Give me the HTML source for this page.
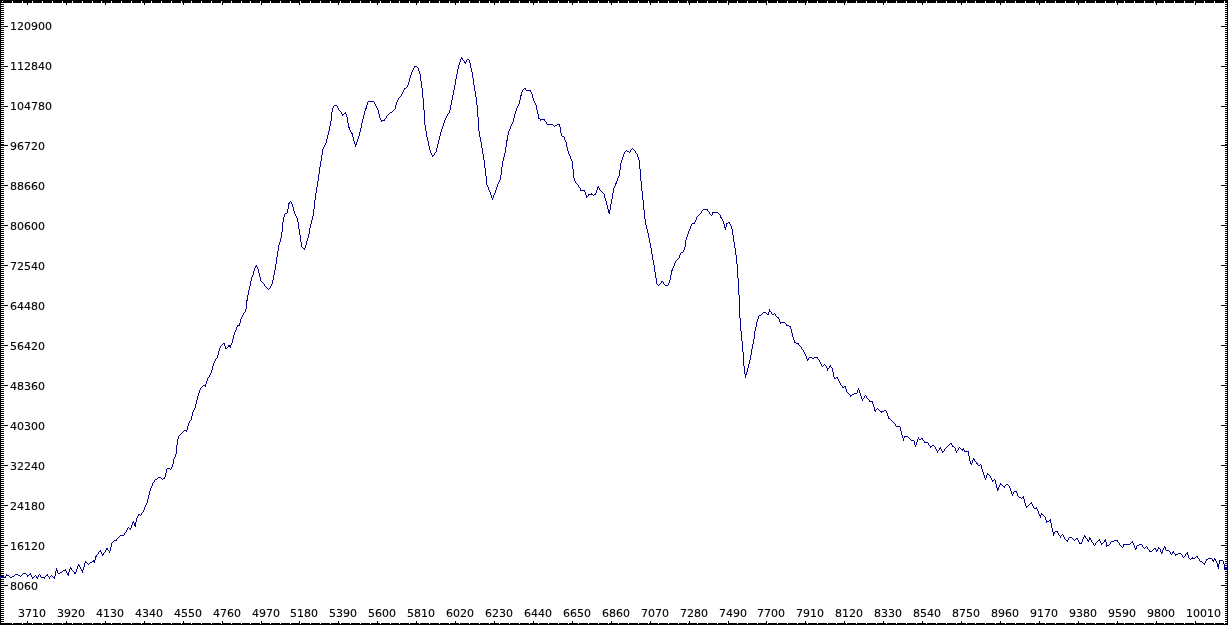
<!DOCTYPE html>
<html lang="en">
<head>
<meta charset="utf-8">
<title>Spectrum plot</title>
<style>
html,body{margin:0;padding:0;background:#fff;overflow:hidden}
body{width:1228px;height:625px;position:relative}
svg{display:block;position:absolute;left:0;top:0}
text{font-family:"DejaVu Sans","Liberation Sans",sans-serif;font-size:11px;fill:#000;stroke:#000;stroke-width:0.12px}
.ax{fill:#000;shape-rendering:crispEdges}
.nt{fill:#fff;shape-rendering:crispEdges}
.cv{fill:#000088;stroke:none;shape-rendering:crispEdges}
</style>
</head>
<body>
<svg width="1228" height="625" viewBox="0 0 1228 625">
<rect x="0" y="0" width="1228" height="625" fill="#fff"/>
<g class="ax">
<rect x="0" y="0" width="1228" height="3"/>
<rect x="0" y="623" width="1228" height="2"/>
<rect x="0" y="0" width="1" height="625"/>
<rect x="1227" y="0" width="1" height="625"/>
</g>
<path class="nt" d="M2 1h1v2h-1zM12 1h1v2h-1zM22 1h1v2h-1zM32 1h1v2h-1zM42 1h1v2h-1zM52 1h1v2h-1zM62 1h1v2h-1zM72 1h1v2h-1zM82 1h1v2h-1zM92 1h1v2h-1zM101 1h1v2h-1zM111 1h1v2h-1zM121 1h1v2h-1zM131 1h1v2h-1zM141 1h1v2h-1zM151 1h1v2h-1zM161 1h1v2h-1zM171 1h1v2h-1zM181 1h1v2h-1zM191 1h1v2h-1zM201 1h1v2h-1zM211 1h1v2h-1zM221 1h1v2h-1zM231 1h1v2h-1zM241 1h1v2h-1zM250 1h1v2h-1zM260 1h1v2h-1zM270 1h1v2h-1zM280 1h1v2h-1zM290 1h1v2h-1zM300 1h1v2h-1zM310 1h1v2h-1zM320 1h1v2h-1zM330 1h1v2h-1zM340 1h1v2h-1zM350 1h1v2h-1zM360 1h1v2h-1zM370 1h1v2h-1zM380 1h1v2h-1zM390 1h1v2h-1zM399 1h1v2h-1zM409 1h1v2h-1zM419 1h1v2h-1zM429 1h1v2h-1zM439 1h1v2h-1zM449 1h1v2h-1zM459 1h1v2h-1zM469 1h1v2h-1zM479 1h1v2h-1zM489 1h1v2h-1zM499 1h1v2h-1zM509 1h1v2h-1zM519 1h1v2h-1zM529 1h1v2h-1zM538 1h1v2h-1zM548 1h1v2h-1zM558 1h1v2h-1zM568 1h1v2h-1zM578 1h1v2h-1zM588 1h1v2h-1zM598 1h1v2h-1zM608 1h1v2h-1zM618 1h1v2h-1zM628 1h1v2h-1zM638 1h1v2h-1zM648 1h1v2h-1zM658 1h1v2h-1zM668 1h1v2h-1zM678 1h1v2h-1zM687 1h1v2h-1zM697 1h1v2h-1zM707 1h1v2h-1zM717 1h1v2h-1zM727 1h1v2h-1zM737 1h1v2h-1zM747 1h1v2h-1zM757 1h1v2h-1zM767 1h1v2h-1zM777 1h1v2h-1zM787 1h1v2h-1zM797 1h1v2h-1zM807 1h1v2h-1zM817 1h1v2h-1zM827 1h1v2h-1zM836 1h1v2h-1zM846 1h1v2h-1zM856 1h1v2h-1zM866 1h1v2h-1zM876 1h1v2h-1zM886 1h1v2h-1zM896 1h1v2h-1zM906 1h1v2h-1zM916 1h1v2h-1zM926 1h1v2h-1zM936 1h1v2h-1zM946 1h1v2h-1zM956 1h1v2h-1zM966 1h1v2h-1zM975 1h1v2h-1zM985 1h1v2h-1zM995 1h1v2h-1zM1005 1h1v2h-1zM1015 1h1v2h-1zM1025 1h1v2h-1zM1035 1h1v2h-1zM1045 1h1v2h-1zM1055 1h1v2h-1zM1065 1h1v2h-1zM1075 1h1v2h-1zM1085 1h1v2h-1zM1095 1h1v2h-1zM1105 1h1v2h-1zM1115 1h1v2h-1zM1124 1h1v2h-1zM1134 1h1v2h-1zM1144 1h1v2h-1zM1154 1h1v2h-1zM1164 1h1v2h-1zM1174 1h1v2h-1zM1184 1h1v2h-1zM1194 1h1v2h-1zM1204 1h1v2h-1zM1214 1h1v2h-1zM1224 1h1v2h-1zM2 623h1v1h-1zM12 623h1v1h-1zM22 623h1v1h-1zM32 623h1v1h-1zM42 623h1v1h-1zM52 623h1v1h-1zM62 623h1v1h-1zM72 623h1v1h-1zM82 623h1v1h-1zM92 623h1v1h-1zM101 623h1v1h-1zM111 623h1v1h-1zM121 623h1v1h-1zM131 623h1v1h-1zM141 623h1v1h-1zM151 623h1v1h-1zM161 623h1v1h-1zM171 623h1v1h-1zM181 623h1v1h-1zM191 623h1v1h-1zM201 623h1v1h-1zM211 623h1v1h-1zM221 623h1v1h-1zM231 623h1v1h-1zM241 623h1v1h-1zM250 623h1v1h-1zM260 623h1v1h-1zM270 623h1v1h-1zM280 623h1v1h-1zM290 623h1v1h-1zM300 623h1v1h-1zM310 623h1v1h-1zM320 623h1v1h-1zM330 623h1v1h-1zM340 623h1v1h-1zM350 623h1v1h-1zM360 623h1v1h-1zM370 623h1v1h-1zM380 623h1v1h-1zM390 623h1v1h-1zM399 623h1v1h-1zM409 623h1v1h-1zM419 623h1v1h-1zM429 623h1v1h-1zM439 623h1v1h-1zM449 623h1v1h-1zM459 623h1v1h-1zM469 623h1v1h-1zM479 623h1v1h-1zM489 623h1v1h-1zM499 623h1v1h-1zM509 623h1v1h-1zM519 623h1v1h-1zM529 623h1v1h-1zM538 623h1v1h-1zM548 623h1v1h-1zM558 623h1v1h-1zM568 623h1v1h-1zM578 623h1v1h-1zM588 623h1v1h-1zM598 623h1v1h-1zM608 623h1v1h-1zM618 623h1v1h-1zM628 623h1v1h-1zM638 623h1v1h-1zM648 623h1v1h-1zM658 623h1v1h-1zM668 623h1v1h-1zM678 623h1v1h-1zM687 623h1v1h-1zM697 623h1v1h-1zM707 623h1v1h-1zM717 623h1v1h-1zM727 623h1v1h-1zM737 623h1v1h-1zM747 623h1v1h-1zM757 623h1v1h-1zM767 623h1v1h-1zM777 623h1v1h-1zM787 623h1v1h-1zM797 623h1v1h-1zM807 623h1v1h-1zM817 623h1v1h-1zM827 623h1v1h-1zM836 623h1v1h-1zM846 623h1v1h-1zM856 623h1v1h-1zM866 623h1v1h-1zM876 623h1v1h-1zM886 623h1v1h-1zM896 623h1v1h-1zM906 623h1v1h-1zM916 623h1v1h-1zM926 623h1v1h-1zM936 623h1v1h-1zM946 623h1v1h-1zM956 623h1v1h-1zM966 623h1v1h-1zM975 623h1v1h-1zM985 623h1v1h-1zM995 623h1v1h-1zM1005 623h1v1h-1zM1015 623h1v1h-1zM1025 623h1v1h-1zM1035 623h1v1h-1zM1045 623h1v1h-1zM1055 623h1v1h-1zM1065 623h1v1h-1zM1075 623h1v1h-1zM1085 623h1v1h-1zM1095 623h1v1h-1zM1105 623h1v1h-1zM1115 623h1v1h-1zM1124 623h1v1h-1zM1134 623h1v1h-1zM1144 623h1v1h-1zM1154 623h1v1h-1zM1164 623h1v1h-1zM1174 623h1v1h-1zM1184 623h1v1h-1zM1194 623h1v1h-1zM1204 623h1v1h-1zM1214 623h1v1h-1zM1224 623h1v1h-1z"/>
<g class="ax">
<path d="M0 0h4v1h-4zM0 2h4v1h-4zM0 4h4v1h-4zM0 6h4v1h-4zM0 8h4v1h-4zM0 10h4v1h-4zM0 12h4v1h-4zM0 14h4v1h-4zM0 16h4v1h-4zM0 18h4v1h-4zM0 20h4v1h-4zM0 22h4v1h-4zM0 24h4v1h-4zM0 26h4v1h-4zM0 28h4v1h-4zM0 30h4v1h-4zM0 32h4v1h-4zM0 34h4v1h-4zM0 36h4v1h-4zM0 38h4v1h-4zM0 40h4v1h-4zM0 42h4v1h-4zM0 44h4v1h-4zM0 46h4v1h-4zM0 48h4v1h-4zM0 50h4v1h-4zM0 52h4v1h-4zM0 54h4v1h-4zM0 56h4v1h-4zM0 58h4v1h-4zM0 60h4v1h-4zM0 62h4v1h-4zM0 64h4v1h-4zM0 66h4v1h-4zM0 68h4v1h-4zM0 70h4v1h-4zM0 72h4v1h-4zM0 74h4v1h-4zM0 76h4v1h-4zM0 78h4v1h-4zM0 80h4v1h-4zM0 82h4v1h-4zM0 84h4v1h-4zM0 86h4v1h-4zM0 88h4v1h-4zM0 90h4v1h-4zM0 92h4v1h-4zM0 94h4v1h-4zM0 96h4v1h-4zM0 98h4v1h-4zM0 100h4v1h-4zM0 102h4v1h-4zM0 104h4v1h-4zM0 106h4v1h-4zM0 108h4v1h-4zM0 110h4v1h-4zM0 112h4v1h-4zM0 114h4v1h-4zM0 116h4v1h-4zM0 118h4v1h-4zM0 120h4v1h-4zM0 122h4v1h-4zM0 124h4v1h-4zM0 126h4v1h-4zM0 128h4v1h-4zM0 130h4v1h-4zM0 132h4v1h-4zM0 134h4v1h-4zM0 136h4v1h-4zM0 138h4v1h-4zM0 140h4v1h-4zM0 142h4v1h-4zM0 144h4v1h-4zM0 145h4v1h-4zM0 147h4v1h-4zM0 149h4v1h-4zM0 151h4v1h-4zM0 153h4v1h-4zM0 155h4v1h-4zM0 157h4v1h-4zM0 159h4v1h-4zM0 161h4v1h-4zM0 163h4v1h-4zM0 165h4v1h-4zM0 167h4v1h-4zM0 169h4v1h-4zM0 171h4v1h-4zM0 173h4v1h-4zM0 175h4v1h-4zM0 177h4v1h-4zM0 179h4v1h-4zM0 181h4v1h-4zM0 183h4v1h-4zM0 185h4v1h-4zM0 187h4v1h-4zM0 189h4v1h-4zM0 191h4v1h-4zM0 193h4v1h-4zM0 195h4v1h-4zM0 197h4v1h-4zM0 199h4v1h-4zM0 201h4v1h-4zM0 203h4v1h-4zM0 205h4v1h-4zM0 207h4v1h-4zM0 209h4v1h-4zM0 211h4v1h-4zM0 213h4v1h-4zM0 215h4v1h-4zM0 217h4v1h-4zM0 219h4v1h-4zM0 221h4v1h-4zM0 223h4v1h-4zM0 225h4v1h-4zM0 227h4v1h-4zM0 229h4v1h-4zM0 231h4v1h-4zM0 233h4v1h-4zM0 235h4v1h-4zM0 237h4v1h-4zM0 239h4v1h-4zM0 241h4v1h-4zM0 243h4v1h-4zM0 245h4v1h-4zM0 247h4v1h-4zM0 249h4v1h-4zM0 251h4v1h-4zM0 253h4v1h-4zM0 255h4v1h-4zM0 257h4v1h-4zM0 259h4v1h-4zM0 261h4v1h-4zM0 263h4v1h-4zM0 265h4v1h-4zM0 267h4v1h-4zM0 269h4v1h-4zM0 271h4v1h-4zM0 273h4v1h-4zM0 275h4v1h-4zM0 277h4v1h-4zM0 279h4v1h-4zM0 281h4v1h-4zM0 283h4v1h-4zM0 285h4v1h-4zM0 287h4v1h-4zM0 289h4v1h-4zM0 291h4v1h-4zM0 293h4v1h-4zM0 295h4v1h-4zM0 297h4v1h-4zM0 299h4v1h-4zM0 301h4v1h-4zM0 303h4v1h-4zM0 305h4v1h-4zM0 307h4v1h-4zM0 309h4v1h-4zM0 311h4v1h-4zM0 313h4v1h-4zM0 315h4v1h-4zM0 317h4v1h-4zM0 319h4v1h-4zM0 321h4v1h-4zM0 323h4v1h-4zM0 325h4v1h-4zM0 327h4v1h-4zM0 329h4v1h-4zM0 331h4v1h-4zM0 333h4v1h-4zM0 335h4v1h-4zM0 337h4v1h-4zM0 339h4v1h-4zM0 341h4v1h-4zM0 343h4v1h-4zM0 345h4v1h-4zM0 347h4v1h-4zM0 349h4v1h-4zM0 351h4v1h-4zM0 353h4v1h-4zM0 355h4v1h-4zM0 357h4v1h-4zM0 359h4v1h-4zM0 361h4v1h-4zM0 363h4v1h-4zM0 365h4v1h-4zM0 367h4v1h-4zM0 369h4v1h-4zM0 371h4v1h-4zM0 373h4v1h-4zM0 375h4v1h-4zM0 377h4v1h-4zM0 379h4v1h-4zM0 381h4v1h-4zM0 383h4v1h-4zM0 385h4v1h-4zM0 387h4v1h-4zM0 389h4v1h-4zM0 391h4v1h-4zM0 393h4v1h-4zM0 395h4v1h-4zM0 397h4v1h-4zM0 399h4v1h-4zM0 401h4v1h-4zM0 403h4v1h-4zM0 405h4v1h-4zM0 407h4v1h-4zM0 409h4v1h-4zM0 411h4v1h-4zM0 413h4v1h-4zM0 415h4v1h-4zM0 417h4v1h-4zM0 419h4v1h-4zM0 421h4v1h-4zM0 423h4v1h-4zM0 425h4v1h-4zM0 427h4v1h-4zM0 429h4v1h-4zM0 431h4v1h-4zM0 433h4v1h-4zM0 435h4v1h-4zM0 437h4v1h-4zM0 439h4v1h-4zM0 441h4v1h-4zM0 443h4v1h-4zM0 445h4v1h-4zM0 447h4v1h-4zM0 449h4v1h-4zM0 451h4v1h-4zM0 453h4v1h-4zM0 455h4v1h-4zM0 457h4v1h-4zM0 459h4v1h-4zM0 461h4v1h-4zM0 463h4v1h-4zM0 465h4v1h-4zM0 467h4v1h-4zM0 469h4v1h-4zM0 471h4v1h-4zM0 473h4v1h-4zM0 475h4v1h-4zM0 477h4v1h-4zM0 479h4v1h-4zM0 481h4v1h-4zM0 483h4v1h-4zM0 485h4v1h-4zM0 487h4v1h-4zM0 489h4v1h-4zM0 491h4v1h-4zM0 493h4v1h-4zM0 495h4v1h-4zM0 497h4v1h-4zM0 499h4v1h-4zM0 501h4v1h-4zM0 503h4v1h-4zM0 505h4v1h-4zM0 507h4v1h-4zM0 509h4v1h-4zM0 511h4v1h-4zM0 513h4v1h-4zM0 515h4v1h-4zM0 517h4v1h-4zM0 519h4v1h-4zM0 521h4v1h-4zM0 523h4v1h-4zM0 525h4v1h-4zM0 527h4v1h-4zM0 529h4v1h-4zM0 531h4v1h-4zM0 533h4v1h-4zM0 535h4v1h-4zM0 537h4v1h-4zM0 539h4v1h-4zM0 541h4v1h-4zM0 543h4v1h-4zM0 545h4v1h-4zM0 547h4v1h-4zM0 549h4v1h-4zM0 551h4v1h-4zM0 553h4v1h-4zM0 555h4v1h-4zM0 557h4v1h-4zM0 559h4v1h-4zM0 561h4v1h-4zM0 563h4v1h-4zM0 565h4v1h-4zM0 567h4v1h-4zM0 569h4v1h-4zM0 571h4v1h-4zM0 573h4v1h-4zM0 575h4v1h-4zM0 577h4v1h-4zM0 579h4v1h-4zM0 581h4v1h-4zM0 583h4v1h-4zM0 585h4v1h-4zM0 587h4v1h-4zM0 589h4v1h-4zM0 591h4v1h-4zM0 593h4v1h-4zM0 595h4v1h-4zM0 597h4v1h-4zM0 599h4v1h-4zM0 601h4v1h-4zM0 603h4v1h-4zM0 605h4v1h-4zM0 607h4v1h-4zM0 609h4v1h-4zM0 611h4v1h-4zM0 613h4v1h-4zM0 615h4v1h-4zM0 617h4v1h-4zM0 619h4v1h-4zM0 621h4v1h-4zM0 623h4v1h-4z"/>
<path d="M1225 0h3v1h-3zM1225 2h3v1h-3zM1225 4h3v1h-3zM1225 6h3v1h-3zM1225 8h3v1h-3zM1225 10h3v1h-3zM1225 12h3v1h-3zM1225 14h3v1h-3zM1225 16h3v1h-3zM1225 18h3v1h-3zM1225 20h3v1h-3zM1225 22h3v1h-3zM1225 24h3v1h-3zM1225 26h3v1h-3zM1225 28h3v1h-3zM1225 30h3v1h-3zM1225 32h3v1h-3zM1225 34h3v1h-3zM1225 36h3v1h-3zM1225 38h3v1h-3zM1225 40h3v1h-3zM1225 42h3v1h-3zM1225 44h3v1h-3zM1225 46h3v1h-3zM1225 48h3v1h-3zM1225 50h3v1h-3zM1225 52h3v1h-3zM1225 54h3v1h-3zM1225 56h3v1h-3zM1225 58h3v1h-3zM1225 60h3v1h-3zM1225 62h3v1h-3zM1225 64h3v1h-3zM1225 66h3v1h-3zM1225 68h3v1h-3zM1225 70h3v1h-3zM1225 72h3v1h-3zM1225 74h3v1h-3zM1225 76h3v1h-3zM1225 78h3v1h-3zM1225 80h3v1h-3zM1225 82h3v1h-3zM1225 84h3v1h-3zM1225 86h3v1h-3zM1225 88h3v1h-3zM1225 90h3v1h-3zM1225 92h3v1h-3zM1225 94h3v1h-3zM1225 96h3v1h-3zM1225 98h3v1h-3zM1225 100h3v1h-3zM1225 102h3v1h-3zM1225 104h3v1h-3zM1225 106h3v1h-3zM1225 108h3v1h-3zM1225 110h3v1h-3zM1225 112h3v1h-3zM1225 114h3v1h-3zM1225 116h3v1h-3zM1225 118h3v1h-3zM1225 120h3v1h-3zM1225 122h3v1h-3zM1225 124h3v1h-3zM1225 126h3v1h-3zM1225 128h3v1h-3zM1225 130h3v1h-3zM1225 132h3v1h-3zM1225 134h3v1h-3zM1225 136h3v1h-3zM1225 138h3v1h-3zM1225 140h3v1h-3zM1225 142h3v1h-3zM1225 144h3v1h-3zM1225 145h3v1h-3zM1225 147h3v1h-3zM1225 149h3v1h-3zM1225 151h3v1h-3zM1225 153h3v1h-3zM1225 155h3v1h-3zM1225 157h3v1h-3zM1225 159h3v1h-3zM1225 161h3v1h-3zM1225 163h3v1h-3zM1225 165h3v1h-3zM1225 167h3v1h-3zM1225 169h3v1h-3zM1225 171h3v1h-3zM1225 173h3v1h-3zM1225 175h3v1h-3zM1225 177h3v1h-3zM1225 179h3v1h-3zM1225 181h3v1h-3zM1225 183h3v1h-3zM1225 185h3v1h-3zM1225 187h3v1h-3zM1225 189h3v1h-3zM1225 191h3v1h-3zM1225 193h3v1h-3zM1225 195h3v1h-3zM1225 197h3v1h-3zM1225 199h3v1h-3zM1225 201h3v1h-3zM1225 203h3v1h-3zM1225 205h3v1h-3zM1225 207h3v1h-3zM1225 209h3v1h-3zM1225 211h3v1h-3zM1225 213h3v1h-3zM1225 215h3v1h-3zM1225 217h3v1h-3zM1225 219h3v1h-3zM1225 221h3v1h-3zM1225 223h3v1h-3zM1225 225h3v1h-3zM1225 227h3v1h-3zM1225 229h3v1h-3zM1225 231h3v1h-3zM1225 233h3v1h-3zM1225 235h3v1h-3zM1225 237h3v1h-3zM1225 239h3v1h-3zM1225 241h3v1h-3zM1225 243h3v1h-3zM1225 245h3v1h-3zM1225 247h3v1h-3zM1225 249h3v1h-3zM1225 251h3v1h-3zM1225 253h3v1h-3zM1225 255h3v1h-3zM1225 257h3v1h-3zM1225 259h3v1h-3zM1225 261h3v1h-3zM1225 263h3v1h-3zM1225 265h3v1h-3zM1225 267h3v1h-3zM1225 269h3v1h-3zM1225 271h3v1h-3zM1225 273h3v1h-3zM1225 275h3v1h-3zM1225 277h3v1h-3zM1225 279h3v1h-3zM1225 281h3v1h-3zM1225 283h3v1h-3zM1225 285h3v1h-3zM1225 287h3v1h-3zM1225 289h3v1h-3zM1225 291h3v1h-3zM1225 293h3v1h-3zM1225 295h3v1h-3zM1225 297h3v1h-3zM1225 299h3v1h-3zM1225 301h3v1h-3zM1225 303h3v1h-3zM1225 305h3v1h-3zM1225 307h3v1h-3zM1225 309h3v1h-3zM1225 311h3v1h-3zM1225 313h3v1h-3zM1225 315h3v1h-3zM1225 317h3v1h-3zM1225 319h3v1h-3zM1225 321h3v1h-3zM1225 323h3v1h-3zM1225 325h3v1h-3zM1225 327h3v1h-3zM1225 329h3v1h-3zM1225 331h3v1h-3zM1225 333h3v1h-3zM1225 335h3v1h-3zM1225 337h3v1h-3zM1225 339h3v1h-3zM1225 341h3v1h-3zM1225 343h3v1h-3zM1225 345h3v1h-3zM1225 347h3v1h-3zM1225 349h3v1h-3zM1225 351h3v1h-3zM1225 353h3v1h-3zM1225 355h3v1h-3zM1225 357h3v1h-3zM1225 359h3v1h-3zM1225 361h3v1h-3zM1225 363h3v1h-3zM1225 365h3v1h-3zM1225 367h3v1h-3zM1225 369h3v1h-3zM1225 371h3v1h-3zM1225 373h3v1h-3zM1225 375h3v1h-3zM1225 377h3v1h-3zM1225 379h3v1h-3zM1225 381h3v1h-3zM1225 383h3v1h-3zM1225 385h3v1h-3zM1225 387h3v1h-3zM1225 389h3v1h-3zM1225 391h3v1h-3zM1225 393h3v1h-3zM1225 395h3v1h-3zM1225 397h3v1h-3zM1225 399h3v1h-3zM1225 401h3v1h-3zM1225 403h3v1h-3zM1225 405h3v1h-3zM1225 407h3v1h-3zM1225 409h3v1h-3zM1225 411h3v1h-3zM1225 413h3v1h-3zM1225 415h3v1h-3zM1225 417h3v1h-3zM1225 419h3v1h-3zM1225 421h3v1h-3zM1225 423h3v1h-3zM1225 425h3v1h-3zM1225 427h3v1h-3zM1225 429h3v1h-3zM1225 431h3v1h-3zM1225 433h3v1h-3zM1225 435h3v1h-3zM1225 437h3v1h-3zM1225 439h3v1h-3zM1225 441h3v1h-3zM1225 443h3v1h-3zM1225 445h3v1h-3zM1225 447h3v1h-3zM1225 449h3v1h-3zM1225 451h3v1h-3zM1225 453h3v1h-3zM1225 455h3v1h-3zM1225 457h3v1h-3zM1225 459h3v1h-3zM1225 461h3v1h-3zM1225 463h3v1h-3zM1225 465h3v1h-3zM1225 467h3v1h-3zM1225 469h3v1h-3zM1225 471h3v1h-3zM1225 473h3v1h-3zM1225 475h3v1h-3zM1225 477h3v1h-3zM1225 479h3v1h-3zM1225 481h3v1h-3zM1225 483h3v1h-3zM1225 485h3v1h-3zM1225 487h3v1h-3zM1225 489h3v1h-3zM1225 491h3v1h-3zM1225 493h3v1h-3zM1225 495h3v1h-3zM1225 497h3v1h-3zM1225 499h3v1h-3zM1225 501h3v1h-3zM1225 503h3v1h-3zM1225 505h3v1h-3zM1225 507h3v1h-3zM1225 509h3v1h-3zM1225 511h3v1h-3zM1225 513h3v1h-3zM1225 515h3v1h-3zM1225 517h3v1h-3zM1225 519h3v1h-3zM1225 521h3v1h-3zM1225 523h3v1h-3zM1225 525h3v1h-3zM1225 527h3v1h-3zM1225 529h3v1h-3zM1225 531h3v1h-3zM1225 533h3v1h-3zM1225 535h3v1h-3zM1225 537h3v1h-3zM1225 539h3v1h-3zM1225 541h3v1h-3zM1225 543h3v1h-3zM1225 545h3v1h-3zM1225 547h3v1h-3zM1225 549h3v1h-3zM1225 551h3v1h-3zM1225 553h3v1h-3zM1225 555h3v1h-3zM1225 557h3v1h-3zM1225 559h3v1h-3zM1225 561h3v1h-3zM1225 563h3v1h-3zM1225 565h3v1h-3zM1225 567h3v1h-3zM1225 569h3v1h-3zM1225 571h3v1h-3zM1225 573h3v1h-3zM1225 575h3v1h-3zM1225 577h3v1h-3zM1225 579h3v1h-3zM1225 581h3v1h-3zM1225 583h3v1h-3zM1225 585h3v1h-3zM1225 587h3v1h-3zM1225 589h3v1h-3zM1225 591h3v1h-3zM1225 593h3v1h-3zM1225 595h3v1h-3zM1225 597h3v1h-3zM1225 599h3v1h-3zM1225 601h3v1h-3zM1225 603h3v1h-3zM1225 605h3v1h-3zM1225 607h3v1h-3zM1225 609h3v1h-3zM1225 611h3v1h-3zM1225 613h3v1h-3zM1225 615h3v1h-3zM1225 617h3v1h-3zM1225 619h3v1h-3zM1225 621h3v1h-3zM1225 623h3v1h-3z"/>
<path d="M0 26h8v1h-8zM0 66h8v1h-8zM0 106h8v1h-8zM0 145h8v1h-8zM0 185h8v1h-8zM0 225h8v1h-8zM0 265h8v1h-8zM0 305h8v1h-8zM0 345h8v1h-8zM0 385h8v1h-8zM0 425h8v1h-8zM0 465h8v1h-8zM0 505h8v1h-8zM0 545h8v1h-8zM0 585h8v1h-8zM1221 26h7v1h-7zM1221 66h7v1h-7zM1221 106h7v1h-7zM1221 145h7v1h-7zM1221 185h7v1h-7zM1221 225h7v1h-7zM1221 265h7v1h-7zM1221 305h7v1h-7zM1221 345h7v1h-7zM1221 385h7v1h-7zM1221 425h7v1h-7zM1221 465h7v1h-7zM1221 505h7v1h-7zM1221 545h7v1h-7zM1221 585h7v1h-7zM27 0h1v5h-1zM66 0h1v5h-1zM105 0h1v5h-1zM144 0h1v5h-1zM183 0h1v5h-1zM222 0h1v5h-1zM261 0h1v5h-1zM299 0h1v5h-1zM338 0h1v5h-1zM377 0h1v5h-1zM416 0h1v5h-1zM455 0h1v5h-1zM494 0h1v5h-1zM533 0h1v5h-1zM572 0h1v5h-1zM611 0h1v5h-1zM650 0h1v5h-1zM689 0h1v5h-1zM728 0h1v5h-1zM766 0h1v5h-1zM805 0h1v5h-1zM844 0h1v5h-1zM883 0h1v5h-1zM922 0h1v5h-1zM961 0h1v5h-1zM1000 0h1v5h-1zM1039 0h1v5h-1zM1078 0h1v5h-1zM1117 0h1v5h-1zM1156 0h1v5h-1zM1195 0h1v5h-1zM27 621h1v4h-1zM66 621h1v4h-1zM105 621h1v4h-1zM144 621h1v4h-1zM183 621h1v4h-1zM222 621h1v4h-1zM261 621h1v4h-1zM299 621h1v4h-1zM338 621h1v4h-1zM377 621h1v4h-1zM416 621h1v4h-1zM455 621h1v4h-1zM494 621h1v4h-1zM533 621h1v4h-1zM572 621h1v4h-1zM611 621h1v4h-1zM650 621h1v4h-1zM689 621h1v4h-1zM728 621h1v4h-1zM766 621h1v4h-1zM805 621h1v4h-1zM844 621h1v4h-1zM883 621h1v4h-1zM922 621h1v4h-1zM961 621h1v4h-1zM1000 621h1v4h-1zM1039 621h1v4h-1zM1078 621h1v4h-1zM1117 621h1v4h-1zM1156 621h1v4h-1zM1195 621h1v4h-1z"/>
</g>
<g>
<text x="10.0" y="30.0">120900</text>
<text x="10.0" y="70.0">112840</text>
<text x="10.0" y="110.0">104780</text>
<text x="10.0" y="150.0">96720</text>
<text x="10.0" y="190.0">88660</text>
<text x="10.0" y="230.0">80600</text>
<text x="10.0" y="270.0">72540</text>
<text x="10.0" y="310.0">64480</text>
<text x="10.0" y="350.0">56420</text>
<text x="10.0" y="390.0">48360</text>
<text x="10.0" y="430.0">40300</text>
<text x="10.0" y="470.0">32240</text>
<text x="10.0" y="510.0">24180</text>
<text x="10.0" y="550.0">16120</text>
<text x="10.0" y="590.0">8060</text>
<text x="18.1" y="616.6">3710</text>
<text x="57.1" y="616.6">3920</text>
<text x="96.1" y="616.6">4130</text>
<text x="135.1" y="616.6">4340</text>
<text x="174.1" y="616.6">4550</text>
<text x="213.1" y="616.6">4760</text>
<text x="252.1" y="616.6">4970</text>
<text x="290.1" y="616.6">5180</text>
<text x="329.1" y="616.6">5390</text>
<text x="368.1" y="616.6">5600</text>
<text x="407.1" y="616.6">5810</text>
<text x="446.1" y="616.6">6020</text>
<text x="485.1" y="616.6">6230</text>
<text x="524.1" y="616.6">6440</text>
<text x="563.1" y="616.6">6650</text>
<text x="602.1" y="616.6">6860</text>
<text x="641.1" y="616.6">7070</text>
<text x="680.1" y="616.6">7280</text>
<text x="719.1" y="616.6">7490</text>
<text x="757.1" y="616.6">7700</text>
<text x="796.1" y="616.6">7910</text>
<text x="835.1" y="616.6">8120</text>
<text x="874.1" y="616.6">8330</text>
<text x="913.1" y="616.6">8540</text>
<text x="952.1" y="616.6">8750</text>
<text x="991.1" y="616.6">8960</text>
<text x="1030.1" y="616.6">9170</text>
<text x="1069.1" y="616.6">9380</text>
<text x="1108.1" y="616.6">9590</text>
<text x="1147.1" y="616.6">9800</text>
<text x="1186.1" y="616.6">10010</text>
</g>
<path class="cv" d="M0 577h1v1h-1zM1 577h1v1h-1zM2 577h1v1h-1zM3 577h1v1h-1zM4 577h1v1h-1zM5 576h1v2h-1zM6 574h1v2h-1zM7 575h1v1h-1zM8 575h1v1h-1zM9 576h1v1h-1zM10 577h1v1h-1zM11 577h1v1h-1zM12 576h1v1h-1zM13 576h1v1h-1zM14 575h1v1h-1zM15 574h1v1h-1zM16 574h1v1h-1zM17 574h1v1h-1zM18 575h1v1h-1zM19 575h1v1h-1zM20 576h1v1h-1zM21 575h1v1h-1zM22 574h1v1h-1zM23 573h1v1h-1zM24 573h1v1h-1zM25 573h1v1h-1zM26 574h1v1h-1zM27 575h1v2h-1zM28 575h1v1h-1zM29 574h1v1h-1zM30 573h1v2h-1zM31 575h1v2h-1zM32 577h1v2h-1zM33 577h1v1h-1zM34 576h1v1h-1zM35 575h1v1h-1zM36 576h1v2h-1zM37 577h1v2h-1zM38 575h1v2h-1zM39 574h1v1h-1zM40 575h1v2h-1zM41 577h1v1h-1zM42 577h1v1h-1zM43 577h1v1h-1zM44 577h1v2h-1zM45 576h1v1h-1zM46 575h1v1h-1zM47 574h1v2h-1zM48 576h1v1h-1zM49 577h1v2h-1zM50 576h1v1h-1zM51 575h1v1h-1zM52 576h1v1h-1zM53 577h1v1h-1zM54 576h1v3h-1zM55 571h1v5h-1zM56 568h1v3h-1zM57 570h1v3h-1zM58 573h1v1h-1zM59 573h1v1h-1zM60 572h1v1h-1zM61 572h1v1h-1zM62 571h1v1h-1zM63 570h1v1h-1zM64 570h1v1h-1zM65 569h1v2h-1zM66 571h1v2h-1zM67 573h1v2h-1zM68 572h1v4h-1zM69 569h1v3h-1zM70 567h1v2h-1zM71 568h1v2h-1zM72 570h1v1h-1zM73 571h1v1h-1zM74 572h1v2h-1zM75 572h1v2h-1zM76 569h1v3h-1zM77 566h1v3h-1zM78 564h1v2h-1zM79 565h1v2h-1zM80 567h1v2h-1zM81 569h1v2h-1zM82 570h1v3h-1zM83 567h1v3h-1zM84 563h1v4h-1zM85 561h1v2h-1zM86 562h1v1h-1zM87 563h1v1h-1zM88 564h1v1h-1zM89 563h1v1h-1zM90 562h1v1h-1zM91 562h1v1h-1zM92 561h1v1h-1zM93 560h1v2h-1zM94 560h1v3h-1zM95 556h1v4h-1zM96 555h1v2h-1zM97 554h1v1h-1zM98 552h1v2h-1zM99 551h1v1h-1zM100 550h1v2h-1zM101 552h1v2h-1zM102 554h1v2h-1zM103 553h1v2h-1zM104 552h1v1h-1zM105 550h1v2h-1zM106 548h1v2h-1zM107 548h1v2h-1zM108 550h1v1h-1zM109 551h1v2h-1zM110 547h1v4h-1zM111 543h1v4h-1zM112 542h1v1h-1zM113 541h1v1h-1zM114 540h1v1h-1zM115 540h1v1h-1zM116 539h1v2h-1zM117 538h1v1h-1zM118 537h1v1h-1zM119 536h1v1h-1zM120 535h1v1h-1zM121 535h1v1h-1zM122 535h1v1h-1zM123 535h1v1h-1zM124 533h1v2h-1zM125 532h1v1h-1zM126 530h1v2h-1zM127 528h1v2h-1zM128 527h1v1h-1zM129 528h1v1h-1zM130 528h1v2h-1zM131 525h1v3h-1zM132 522h1v3h-1zM133 521h1v2h-1zM134 523h1v3h-1zM135 522h1v5h-1zM136 518h1v4h-1zM137 516h1v2h-1zM138 514h1v2h-1zM139 514h1v1h-1zM140 515h1v1h-1zM141 513h1v2h-1zM142 512h1v1h-1zM143 510h1v2h-1zM144 507h1v3h-1zM145 505h1v2h-1zM146 503h1v2h-1zM147 499h1v4h-1zM148 495h1v4h-1zM149 491h1v4h-1zM150 488h1v3h-1zM151 486h1v2h-1zM152 483h1v3h-1zM153 482h1v1h-1zM154 480h1v2h-1zM155 479h1v1h-1zM156 479h1v1h-1zM157 478h1v1h-1zM158 477h1v1h-1zM159 477h1v1h-1zM160 477h1v1h-1zM161 478h1v1h-1zM162 479h1v1h-1zM163 478h1v1h-1zM164 477h1v2h-1zM165 473h1v4h-1zM166 469h1v4h-1zM167 468h1v1h-1zM168 468h1v1h-1zM169 468h1v1h-1zM170 469h1v1h-1zM171 467h1v2h-1zM172 464h1v3h-1zM173 459h1v5h-1zM174 457h1v2h-1zM175 454h1v3h-1zM176 445h1v9h-1zM177 439h1v6h-1zM178 436h1v3h-1zM179 435h1v1h-1zM180 434h1v1h-1zM181 433h1v1h-1zM182 432h1v1h-1zM183 431h1v1h-1zM184 430h1v1h-1zM185 430h1v1h-1zM186 430h1v2h-1zM187 426h1v4h-1zM188 423h1v3h-1zM189 421h1v2h-1zM190 420h1v1h-1zM191 416h1v4h-1zM192 412h1v4h-1zM193 410h1v2h-1zM194 408h1v2h-1zM195 404h1v4h-1zM196 400h1v4h-1zM197 396h1v4h-1zM198 393h1v3h-1zM199 390h1v3h-1zM200 388h1v2h-1zM201 387h1v1h-1zM202 386h1v1h-1zM203 385h1v1h-1zM204 385h1v1h-1zM205 384h1v3h-1zM206 381h1v3h-1zM207 378h1v3h-1zM208 377h1v1h-1zM209 375h1v2h-1zM210 373h1v2h-1zM211 370h1v3h-1zM212 366h1v4h-1zM213 363h1v3h-1zM214 361h1v2h-1zM215 359h1v2h-1zM216 358h1v1h-1zM217 355h1v3h-1zM218 351h1v4h-1zM219 348h1v3h-1zM220 346h1v2h-1zM221 345h1v1h-1zM222 344h1v1h-1zM223 343h1v1h-1zM224 343h1v3h-1zM225 346h1v3h-1zM226 348h1v1h-1zM227 347h1v1h-1zM228 345h1v2h-1zM229 345h1v2h-1zM230 345h1v3h-1zM231 343h1v2h-1zM232 339h1v4h-1zM233 335h1v4h-1zM234 332h1v3h-1zM235 330h1v2h-1zM236 327h1v3h-1zM237 325h1v2h-1zM238 325h1v1h-1zM239 323h1v3h-1zM240 319h1v4h-1zM241 317h1v2h-1zM242 315h1v2h-1zM243 313h1v2h-1zM244 312h1v1h-1zM245 309h1v3h-1zM246 300h1v9h-1zM247 295h1v6h-1zM248 290h1v5h-1zM249 286h1v4h-1zM250 281h1v5h-1zM251 277h1v4h-1zM252 275h1v2h-1zM253 271h1v4h-1zM254 268h1v3h-1zM255 266h1v2h-1zM256 265h1v2h-1zM257 267h1v2h-1zM258 269h1v4h-1zM259 273h1v4h-1zM260 277h1v4h-1zM261 281h1v1h-1zM262 282h1v1h-1zM263 283h1v1h-1zM264 284h1v2h-1zM265 286h1v1h-1zM266 287h1v1h-1zM267 288h1v1h-1zM268 289h1v1h-1zM269 288h1v1h-1zM270 286h1v2h-1zM271 284h1v2h-1zM272 280h1v4h-1zM273 275h1v5h-1zM274 270h1v5h-1zM275 264h1v6h-1zM276 257h1v7h-1zM277 251h1v6h-1zM278 245h1v6h-1zM279 242h1v3h-1zM280 238h1v4h-1zM281 232h1v6h-1zM282 222h1v10h-1zM283 217h1v5h-1zM284 214h1v3h-1zM285 213h1v1h-1zM286 213h1v1h-1zM287 209h1v4h-1zM288 203h1v6h-1zM289 202h1v2h-1zM290 201h1v1h-1zM291 202h1v2h-1zM292 204h1v3h-1zM293 207h1v4h-1zM294 211h1v3h-1zM295 214h1v2h-1zM296 216h1v2h-1zM297 218h1v4h-1zM298 222h1v7h-1zM299 229h1v6h-1zM300 235h1v7h-1zM301 242h1v5h-1zM302 247h1v1h-1zM303 248h1v1h-1zM304 248h1v2h-1zM305 245h1v3h-1zM306 241h1v4h-1zM307 238h1v3h-1zM308 234h1v4h-1zM309 228h1v6h-1zM310 224h1v4h-1zM311 220h1v4h-1zM312 216h1v4h-1zM313 209h1v7h-1zM314 200h1v9h-1zM315 193h1v7h-1zM316 187h1v6h-1zM317 181h1v6h-1zM318 174h1v7h-1zM319 167h1v7h-1zM320 161h1v6h-1zM321 155h1v6h-1zM322 149h1v6h-1zM323 147h1v2h-1zM324 145h1v2h-1zM325 143h1v2h-1zM326 139h1v4h-1zM327 135h1v4h-1zM328 131h1v4h-1zM329 126h1v5h-1zM330 121h1v5h-1zM331 112h1v9h-1zM332 108h1v4h-1zM333 106h1v2h-1zM334 105h1v1h-1zM335 105h1v1h-1zM336 105h1v1h-1zM337 106h1v2h-1zM338 108h1v2h-1zM339 110h1v1h-1zM340 111h1v1h-1zM341 112h1v2h-1zM342 114h1v2h-1zM343 114h1v1h-1zM344 113h1v1h-1zM345 112h1v2h-1zM346 114h1v3h-1zM347 117h1v6h-1zM348 123h1v5h-1zM349 127h1v3h-1zM350 130h1v2h-1zM351 132h1v2h-1zM352 133h1v4h-1zM353 137h1v4h-1zM354 141h1v3h-1zM355 144h1v3h-1zM356 142h1v3h-1zM357 139h1v3h-1zM358 136h1v3h-1zM359 132h1v4h-1zM360 128h1v4h-1zM361 123h1v5h-1zM362 119h1v4h-1zM363 115h1v4h-1zM364 111h1v4h-1zM365 108h1v3h-1zM366 105h1v4h-1zM367 102h1v3h-1zM368 101h1v1h-1zM369 101h1v1h-1zM370 101h1v1h-1zM371 101h1v1h-1zM372 101h1v1h-1zM373 101h1v1h-1zM374 102h1v2h-1zM375 104h1v2h-1zM376 106h1v2h-1zM377 108h1v2h-1zM378 110h1v4h-1zM379 114h1v4h-1zM380 118h1v2h-1zM381 120h1v2h-1zM382 120h1v1h-1zM383 120h1v1h-1zM384 119h1v2h-1zM385 118h1v1h-1zM386 116h1v2h-1zM387 115h1v1h-1zM388 114h1v1h-1zM389 113h1v1h-1zM390 112h1v1h-1zM391 112h1v1h-1zM392 111h1v1h-1zM393 110h1v1h-1zM394 109h1v1h-1zM395 105h1v4h-1zM396 102h1v3h-1zM397 100h1v2h-1zM398 98h1v2h-1zM399 97h1v1h-1zM400 96h1v1h-1zM401 94h1v2h-1zM402 92h1v2h-1zM403 90h1v2h-1zM404 88h1v2h-1zM405 88h1v1h-1zM406 87h1v1h-1zM407 85h1v2h-1zM408 82h1v3h-1zM409 78h1v4h-1zM410 75h1v3h-1zM411 72h1v3h-1zM412 70h1v2h-1zM413 68h1v2h-1zM414 66h1v2h-1zM415 66h1v1h-1zM416 66h1v1h-1zM417 67h1v1h-1zM418 68h1v3h-1zM419 71h1v3h-1zM420 74h1v7h-1zM421 81h1v7h-1zM422 88h1v10h-1zM423 98h1v12h-1zM424 110h1v15h-1zM425 125h1v6h-1zM426 131h1v6h-1zM427 137h1v4h-1zM428 141h1v5h-1zM429 146h1v4h-1zM430 150h1v3h-1zM431 153h1v2h-1zM432 155h1v2h-1zM433 155h1v1h-1zM434 153h1v2h-1zM435 152h1v1h-1zM436 148h1v4h-1zM437 144h1v4h-1zM438 140h1v4h-1zM439 136h1v4h-1zM440 132h1v4h-1zM441 129h1v3h-1zM442 126h1v3h-1zM443 123h1v3h-1zM444 120h1v3h-1zM445 118h1v2h-1zM446 116h1v2h-1zM447 114h1v2h-1zM448 113h1v1h-1zM449 110h1v3h-1zM450 105h1v5h-1zM451 100h1v5h-1zM452 95h1v5h-1zM453 90h1v5h-1zM454 85h1v5h-1zM455 79h1v6h-1zM456 74h1v5h-1zM457 69h1v5h-1zM458 65h1v4h-1zM459 62h1v3h-1zM460 59h1v3h-1zM461 57h1v2h-1zM462 58h1v2h-1zM463 60h1v1h-1zM464 61h1v2h-1zM465 62h1v2h-1zM466 60h1v2h-1zM467 59h1v1h-1zM468 59h1v1h-1zM469 60h1v3h-1zM470 63h1v5h-1zM471 68h1v4h-1zM472 72h1v6h-1zM473 78h1v7h-1zM474 85h1v6h-1zM475 91h1v6h-1zM476 97h1v8h-1zM477 105h1v12h-1zM478 117h1v14h-1zM479 131h1v6h-1zM480 137h1v5h-1zM481 142h1v6h-1zM482 148h1v6h-1zM483 154h1v6h-1zM484 160h1v8h-1zM485 168h1v8h-1zM486 176h1v9h-1zM487 185h1v2h-1zM488 187h1v3h-1zM489 190h1v2h-1zM490 192h1v3h-1zM491 195h1v3h-1zM492 198h1v2h-1zM493 195h1v3h-1zM494 193h1v2h-1zM495 190h1v3h-1zM496 187h1v3h-1zM497 184h1v3h-1zM498 182h1v2h-1zM499 180h1v2h-1zM500 175h1v5h-1zM501 167h1v8h-1zM502 161h1v6h-1zM503 157h1v4h-1zM504 153h1v4h-1zM505 147h1v6h-1zM506 140h1v7h-1zM507 135h1v6h-1zM508 131h1v4h-1zM509 129h1v2h-1zM510 126h1v3h-1zM511 124h1v2h-1zM512 122h1v2h-1zM513 118h1v4h-1zM514 114h1v4h-1zM515 111h1v3h-1zM516 108h1v3h-1zM517 106h1v2h-1zM518 104h1v2h-1zM519 100h1v4h-1zM520 95h1v5h-1zM521 92h1v4h-1zM522 90h1v2h-1zM523 89h1v1h-1zM524 88h1v1h-1zM525 88h1v2h-1zM526 90h1v1h-1zM527 90h1v1h-1zM528 90h1v1h-1zM529 90h1v1h-1zM530 90h1v2h-1zM531 92h1v2h-1zM532 94h1v4h-1zM533 98h1v3h-1zM534 101h1v2h-1zM535 103h1v2h-1zM536 105h1v5h-1zM537 110h1v4h-1zM538 114h1v5h-1zM539 118h1v1h-1zM540 119h1v2h-1zM541 119h1v1h-1zM542 119h1v1h-1zM543 119h1v1h-1zM544 119h1v2h-1zM545 121h1v1h-1zM546 122h1v2h-1zM547 124h1v1h-1zM548 124h1v1h-1zM549 124h1v1h-1zM550 124h1v1h-1zM551 124h1v1h-1zM552 124h1v1h-1zM553 125h1v1h-1zM554 126h1v1h-1zM555 125h1v1h-1zM556 125h1v1h-1zM557 124h1v1h-1zM558 124h1v1h-1zM559 124h1v3h-1zM560 127h1v6h-1zM561 133h1v3h-1zM562 136h1v1h-1zM563 136h1v1h-1zM564 137h1v3h-1zM565 140h1v2h-1zM566 142h1v5h-1zM567 147h1v4h-1zM568 151h1v3h-1zM569 154h1v2h-1zM570 156h1v3h-1zM571 159h1v2h-1zM572 161h1v8h-1zM573 169h1v9h-1zM574 178h1v3h-1zM575 181h1v2h-1zM576 183h1v1h-1zM577 184h1v1h-1zM578 185h1v2h-1zM579 187h1v1h-1zM580 188h1v3h-1zM581 190h1v1h-1zM582 190h1v1h-1zM583 190h1v1h-1zM584 190h1v2h-1zM585 192h1v3h-1zM586 195h1v3h-1zM587 196h1v1h-1zM588 194h1v2h-1zM589 194h1v1h-1zM590 194h1v1h-1zM591 193h1v2h-1zM592 194h1v1h-1zM593 195h1v1h-1zM594 194h1v1h-1zM595 193h1v2h-1zM596 190h1v3h-1zM597 187h1v3h-1zM598 186h1v2h-1zM599 188h1v2h-1zM600 190h1v1h-1zM601 191h1v1h-1zM602 192h1v1h-1zM603 193h1v1h-1zM604 194h1v4h-1zM605 198h1v3h-1zM606 201h1v4h-1zM607 205h1v4h-1zM608 209h1v4h-1zM609 210h1v4h-1zM610 204h1v6h-1zM611 199h1v5h-1zM612 193h1v6h-1zM613 188h1v5h-1zM614 186h1v2h-1zM615 183h1v3h-1zM616 181h1v3h-1zM617 178h1v3h-1zM618 176h1v2h-1zM619 170h1v6h-1zM620 163h1v7h-1zM621 160h1v3h-1zM622 157h1v3h-1zM623 154h1v3h-1zM624 152h1v2h-1zM625 151h1v1h-1zM626 150h1v1h-1zM627 151h1v1h-1zM628 151h1v1h-1zM629 152h1v1h-1zM630 150h1v2h-1zM631 149h1v1h-1zM632 148h1v1h-1zM633 149h1v1h-1zM634 150h1v1h-1zM635 151h1v2h-1zM636 153h1v1h-1zM637 154h1v3h-1zM638 157h1v3h-1zM639 160h1v9h-1zM640 169h1v12h-1zM641 181h1v10h-1zM642 191h1v9h-1zM643 200h1v10h-1zM644 210h1v9h-1zM645 219h1v6h-1zM646 225h1v4h-1zM647 229h1v4h-1zM648 233h1v5h-1zM649 238h1v5h-1zM650 243h1v5h-1zM651 248h1v6h-1zM652 254h1v6h-1zM653 260h1v5h-1zM654 265h1v7h-1zM655 272h1v6h-1zM656 278h1v6h-1zM657 284h1v1h-1zM658 285h1v1h-1zM659 284h1v1h-1zM660 283h1v1h-1zM661 281h1v2h-1zM662 281h1v1h-1zM663 282h1v2h-1zM664 284h1v1h-1zM665 285h1v1h-1zM666 285h1v1h-1zM667 285h1v1h-1zM668 283h1v2h-1zM669 280h1v3h-1zM670 275h1v5h-1zM671 270h1v5h-1zM672 268h1v3h-1zM673 266h1v2h-1zM674 263h1v3h-1zM675 261h1v2h-1zM676 260h1v1h-1zM677 259h1v1h-1zM678 258h1v1h-1zM679 255h1v3h-1zM680 253h1v2h-1zM681 252h1v1h-1zM682 252h1v1h-1zM683 250h1v2h-1zM684 247h1v3h-1zM685 240h1v7h-1zM686 237h1v3h-1zM687 234h1v3h-1zM688 231h1v3h-1zM689 229h1v2h-1zM690 226h1v3h-1zM691 224h1v2h-1zM692 223h1v1h-1zM693 223h1v1h-1zM694 222h1v2h-1zM695 220h1v2h-1zM696 217h1v3h-1zM697 216h1v1h-1zM698 215h1v1h-1zM699 214h1v1h-1zM700 213h1v1h-1zM701 211h1v2h-1zM702 210h1v1h-1zM703 209h1v1h-1zM704 209h1v1h-1zM705 209h1v1h-1zM706 209h1v1h-1zM707 209h1v2h-1zM708 211h1v1h-1zM709 212h1v2h-1zM710 214h1v1h-1zM711 215h1v1h-1zM712 212h1v3h-1zM713 212h1v1h-1zM714 212h1v1h-1zM715 212h1v1h-1zM716 212h1v1h-1zM717 212h1v1h-1zM718 213h1v1h-1zM719 214h1v1h-1zM720 215h1v3h-1zM721 217h1v2h-1zM722 219h1v2h-1zM723 221h1v3h-1zM724 224h1v4h-1zM725 227h1v3h-1zM726 223h1v4h-1zM727 223h1v1h-1zM728 222h1v1h-1zM729 222h1v2h-1zM730 224h1v2h-1zM731 226h1v3h-1zM732 229h1v6h-1zM733 235h1v7h-1zM734 242h1v6h-1zM735 248h1v7h-1zM736 255h1v9h-1zM737 264h1v14h-1zM738 278h1v17h-1zM739 295h1v23h-1zM740 318h1v13h-1zM741 331h1v10h-1zM742 341h1v11h-1zM743 352h1v14h-1zM744 366h1v8h-1zM745 374h1v4h-1zM746 372h1v3h-1zM747 368h1v4h-1zM748 364h1v4h-1zM749 360h1v4h-1zM750 355h1v5h-1zM751 349h1v6h-1zM752 344h1v5h-1zM753 339h1v5h-1zM754 331h1v8h-1zM755 327h1v4h-1zM756 322h1v5h-1zM757 319h1v3h-1zM758 316h1v3h-1zM759 315h1v1h-1zM760 315h1v1h-1zM761 314h1v1h-1zM762 313h1v1h-1zM763 312h1v1h-1zM764 312h1v1h-1zM765 312h1v1h-1zM766 313h1v1h-1zM767 314h1v1h-1zM768 312h1v3h-1zM769 309h1v3h-1zM770 311h1v1h-1zM771 312h1v2h-1zM772 314h1v1h-1zM773 314h1v1h-1zM774 313h1v1h-1zM775 314h1v2h-1zM776 316h1v1h-1zM777 317h1v1h-1zM778 317h1v2h-1zM779 319h1v3h-1zM780 322h1v2h-1zM781 322h1v1h-1zM782 322h1v1h-1zM783 322h1v1h-1zM784 322h1v1h-1zM785 323h1v1h-1zM786 324h1v2h-1zM787 325h1v1h-1zM788 325h1v1h-1zM789 326h1v1h-1zM790 326h1v3h-1zM791 329h1v4h-1zM792 333h1v4h-1zM793 337h1v3h-1zM794 340h1v3h-1zM795 342h1v1h-1zM796 343h1v1h-1zM797 343h1v1h-1zM798 343h1v2h-1zM799 345h1v1h-1zM800 346h1v1h-1zM801 347h1v2h-1zM802 349h1v1h-1zM803 350h1v2h-1zM804 352h1v2h-1zM805 354h1v2h-1zM806 356h1v3h-1zM807 359h1v2h-1zM808 358h1v2h-1zM809 357h1v1h-1zM810 357h1v1h-1zM811 357h1v1h-1zM812 358h1v1h-1zM813 358h1v1h-1zM814 357h1v1h-1zM815 357h1v1h-1zM816 357h1v1h-1zM817 357h1v2h-1zM818 359h1v1h-1zM819 360h1v2h-1zM820 362h1v2h-1zM821 364h1v2h-1zM822 366h1v1h-1zM823 365h1v1h-1zM824 364h1v1h-1zM825 365h1v1h-1zM826 366h1v2h-1zM827 368h1v3h-1zM828 368h1v1h-1zM829 366h1v2h-1zM830 365h1v2h-1zM831 367h1v1h-1zM832 368h1v4h-1zM833 372h1v5h-1zM834 377h1v2h-1zM835 378h1v1h-1zM836 377h1v1h-1zM837 377h1v2h-1zM838 379h1v2h-1zM839 381h1v2h-1zM840 383h1v2h-1zM841 385h1v1h-1zM842 386h1v2h-1zM843 387h1v1h-1zM844 386h1v1h-1zM845 386h1v3h-1zM846 389h1v3h-1zM847 392h1v1h-1zM848 393h1v1h-1zM849 394h1v1h-1zM850 395h1v2h-1zM851 395h1v1h-1zM852 394h1v1h-1zM853 394h1v1h-1zM854 393h1v1h-1zM855 393h1v1h-1zM856 393h1v1h-1zM857 390h1v3h-1zM858 388h1v2h-1zM859 390h1v3h-1zM860 393h1v3h-1zM861 396h1v3h-1zM862 399h1v2h-1zM863 398h1v1h-1zM864 396h1v2h-1zM865 395h1v1h-1zM866 396h1v2h-1zM867 398h1v1h-1zM868 399h1v1h-1zM869 400h1v2h-1zM870 401h1v1h-1zM871 401h1v1h-1zM872 401h1v3h-1zM873 404h1v3h-1zM874 407h1v4h-1zM875 410h1v2h-1zM876 409h1v1h-1zM877 408h1v1h-1zM878 409h1v1h-1zM879 410h1v1h-1zM880 411h1v1h-1zM881 411h1v2h-1zM882 411h1v1h-1zM883 411h1v1h-1zM884 410h1v1h-1zM885 410h1v1h-1zM886 411h1v2h-1zM887 413h1v3h-1zM888 416h1v3h-1zM889 418h1v1h-1zM890 419h1v1h-1zM891 420h1v1h-1zM892 421h1v1h-1zM893 422h1v1h-1zM894 423h1v1h-1zM895 424h1v2h-1zM896 426h1v1h-1zM897 426h1v1h-1zM898 426h1v1h-1zM899 426h1v1h-1zM900 427h1v4h-1zM901 431h1v4h-1zM902 435h1v3h-1zM903 438h1v3h-1zM904 436h1v2h-1zM905 436h1v1h-1zM906 436h1v1h-1zM907 436h1v1h-1zM908 437h1v1h-1zM909 438h1v1h-1zM910 439h1v1h-1zM911 440h1v1h-1zM912 440h1v1h-1zM913 440h1v1h-1zM914 441h1v4h-1zM915 445h1v2h-1zM916 442h1v3h-1zM917 439h1v3h-1zM918 437h1v2h-1zM919 439h1v1h-1zM920 439h1v1h-1zM921 438h1v1h-1zM922 438h1v2h-1zM923 440h1v1h-1zM924 441h1v2h-1zM925 442h1v1h-1zM926 442h1v1h-1zM927 442h1v1h-1zM928 443h1v2h-1zM929 445h1v1h-1zM930 446h1v2h-1zM931 446h1v1h-1zM932 445h1v1h-1zM933 445h1v1h-1zM934 446h1v1h-1zM935 447h1v2h-1zM936 449h1v2h-1zM937 451h1v2h-1zM938 450h1v1h-1zM939 448h1v2h-1zM940 447h1v2h-1zM941 449h1v2h-1zM942 451h1v2h-1zM943 451h1v1h-1zM944 449h1v2h-1zM945 448h1v1h-1zM946 447h1v1h-1zM947 446h1v1h-1zM948 445h1v1h-1zM949 444h1v1h-1zM950 443h1v1h-1zM951 443h1v2h-1zM952 445h1v2h-1zM953 446h1v1h-1zM954 447h1v1h-1zM955 448h1v3h-1zM956 451h1v2h-1zM957 450h1v1h-1zM958 448h1v2h-1zM959 447h1v1h-1zM960 448h1v1h-1zM961 449h1v1h-1zM962 449h1v2h-1zM963 448h1v2h-1zM964 450h1v2h-1zM965 451h1v1h-1zM966 451h1v1h-1zM967 451h1v1h-1zM968 451h1v5h-1zM969 456h1v5h-1zM970 461h1v3h-1zM971 463h1v2h-1zM972 460h1v3h-1zM973 458h1v2h-1zM974 459h1v2h-1zM975 461h1v1h-1zM976 462h1v2h-1zM977 463h1v2h-1zM978 465h1v1h-1zM979 465h1v1h-1zM980 464h1v1h-1zM981 465h1v4h-1zM982 469h1v3h-1zM983 472h1v3h-1zM984 475h1v3h-1zM985 478h1v2h-1zM986 475h1v3h-1zM987 473h1v2h-1zM988 474h1v1h-1zM989 475h1v1h-1zM990 476h1v2h-1zM991 478h1v2h-1zM992 480h1v2h-1zM993 480h1v1h-1zM994 479h1v1h-1zM995 480h1v4h-1zM996 484h1v4h-1zM997 488h1v3h-1zM998 487h1v3h-1zM999 485h1v2h-1zM1000 483h1v2h-1zM1001 484h1v1h-1zM1002 485h1v1h-1zM1003 486h1v1h-1zM1004 486h1v2h-1zM1005 485h1v1h-1zM1006 484h1v1h-1zM1007 484h1v1h-1zM1008 485h1v1h-1zM1009 486h1v2h-1zM1010 488h1v3h-1zM1011 491h1v3h-1zM1012 494h1v2h-1zM1013 492h1v2h-1zM1014 491h1v1h-1zM1015 491h1v1h-1zM1016 491h1v2h-1zM1017 493h1v3h-1zM1018 496h1v1h-1zM1019 497h1v1h-1zM1020 497h1v1h-1zM1021 498h1v1h-1zM1022 497h1v1h-1zM1023 496h1v3h-1zM1024 499h1v4h-1zM1025 503h1v3h-1zM1026 506h1v2h-1zM1027 506h1v1h-1zM1028 505h1v1h-1zM1029 504h1v1h-1zM1030 503h1v1h-1zM1031 502h1v2h-1zM1032 504h1v2h-1zM1033 506h1v2h-1zM1034 508h1v1h-1zM1035 508h1v1h-1zM1036 507h1v2h-1zM1037 509h1v2h-1zM1038 511h1v3h-1zM1039 514h1v2h-1zM1040 515h1v3h-1zM1041 513h1v2h-1zM1042 514h1v1h-1zM1043 515h1v1h-1zM1044 516h1v1h-1zM1045 517h1v3h-1zM1046 520h1v3h-1zM1047 521h1v1h-1zM1048 521h1v1h-1zM1049 520h1v1h-1zM1050 519h1v4h-1zM1051 523h1v5h-1zM1052 528h1v4h-1zM1053 532h1v4h-1zM1054 532h1v2h-1zM1055 531h1v1h-1zM1056 531h1v1h-1zM1057 531h1v2h-1zM1058 533h1v2h-1zM1059 535h1v1h-1zM1060 536h1v2h-1zM1061 535h1v1h-1zM1062 534h1v1h-1zM1063 535h1v2h-1zM1064 537h1v2h-1zM1065 539h1v1h-1zM1066 540h1v1h-1zM1067 540h1v2h-1zM1068 538h1v2h-1zM1069 537h1v1h-1zM1070 537h1v1h-1zM1071 537h1v1h-1zM1072 538h1v1h-1zM1073 539h1v1h-1zM1074 540h1v1h-1zM1075 539h1v1h-1zM1076 538h1v1h-1zM1077 538h1v2h-1zM1078 540h1v2h-1zM1079 542h1v2h-1zM1080 543h1v1h-1zM1081 542h1v2h-1zM1082 539h1v3h-1zM1083 537h1v2h-1zM1084 535h1v2h-1zM1085 536h1v2h-1zM1086 538h1v1h-1zM1087 539h1v2h-1zM1088 540h1v2h-1zM1089 537h1v3h-1zM1090 538h1v2h-1zM1091 540h1v2h-1zM1092 542h1v1h-1zM1093 543h1v2h-1zM1094 545h1v1h-1zM1095 543h1v2h-1zM1096 542h1v1h-1zM1097 541h1v1h-1zM1098 540h1v1h-1zM1099 539h1v2h-1zM1100 541h1v2h-1zM1101 543h1v2h-1zM1102 543h1v1h-1zM1103 542h1v1h-1zM1104 540h1v2h-1zM1105 539h1v3h-1zM1106 542h1v5h-1zM1107 545h1v1h-1zM1108 545h1v1h-1zM1109 544h1v1h-1zM1110 542h1v2h-1zM1111 541h1v1h-1zM1112 541h1v1h-1zM1113 541h1v1h-1zM1114 540h1v1h-1zM1115 540h1v1h-1zM1116 540h1v1h-1zM1117 540h1v2h-1zM1118 542h1v1h-1zM1119 543h1v2h-1zM1120 545h1v1h-1zM1121 546h1v1h-1zM1122 547h1v1h-1zM1123 544h1v3h-1zM1124 544h1v1h-1zM1125 544h1v1h-1zM1126 544h1v1h-1zM1127 544h1v1h-1zM1128 544h1v1h-1zM1129 544h1v1h-1zM1130 543h1v1h-1zM1131 542h1v1h-1zM1132 541h1v2h-1zM1133 543h1v2h-1zM1134 545h1v3h-1zM1135 548h1v2h-1zM1136 546h1v3h-1zM1137 545h1v1h-1zM1138 545h1v1h-1zM1139 544h1v1h-1zM1140 544h1v1h-1zM1141 544h1v1h-1zM1142 545h1v2h-1zM1143 547h1v1h-1zM1144 548h1v1h-1zM1145 547h1v1h-1zM1146 546h1v1h-1zM1147 547h1v2h-1zM1148 549h1v1h-1zM1149 550h1v2h-1zM1150 551h1v1h-1zM1151 551h1v1h-1zM1152 550h1v1h-1zM1153 549h1v1h-1zM1154 548h1v1h-1zM1155 548h1v2h-1zM1156 550h1v2h-1zM1157 549h1v2h-1zM1158 547h1v2h-1zM1159 548h1v1h-1zM1160 549h1v3h-1zM1161 552h1v2h-1zM1162 550h1v3h-1zM1163 548h1v2h-1zM1164 546h1v2h-1zM1165 547h1v3h-1zM1166 550h1v1h-1zM1167 550h1v1h-1zM1168 550h1v1h-1zM1169 551h1v1h-1zM1170 552h1v2h-1zM1171 554h1v1h-1zM1172 552h1v2h-1zM1173 551h1v2h-1zM1174 553h1v1h-1zM1175 554h1v2h-1zM1176 554h1v1h-1zM1177 554h1v1h-1zM1178 553h1v1h-1zM1179 553h1v1h-1zM1180 553h1v1h-1zM1181 554h1v1h-1zM1182 555h1v2h-1zM1183 557h1v1h-1zM1184 556h1v1h-1zM1185 554h1v2h-1zM1186 553h1v1h-1zM1187 552h1v3h-1zM1188 555h1v3h-1zM1189 558h1v1h-1zM1190 559h1v1h-1zM1191 558h1v1h-1zM1192 557h1v2h-1zM1193 558h1v1h-1zM1194 558h1v1h-1zM1195 557h1v1h-1zM1196 556h1v1h-1zM1197 556h1v2h-1zM1198 558h1v1h-1zM1199 559h1v2h-1zM1200 561h1v1h-1zM1201 561h1v1h-1zM1202 562h1v1h-1zM1203 563h1v1h-1zM1204 563h1v2h-1zM1205 561h1v2h-1zM1206 559h1v2h-1zM1207 559h1v1h-1zM1208 558h1v1h-1zM1209 558h1v1h-1zM1210 558h1v1h-1zM1211 558h1v1h-1zM1212 559h1v2h-1zM1213 560h1v2h-1zM1214 558h1v2h-1zM1215 559h1v2h-1zM1216 561h1v2h-1zM1217 563h1v4h-1zM1218 564h1v5h-1zM1219 560h1v4h-1zM1220 560h1v1h-1zM1221 560h1v1h-1zM1222 560h1v1h-1zM1223 561h1v3h-1zM1224 564h1v5h-1zM1225 568h1v1h-1zM1226 568h1v1h-1zM1227 568h1v1h-1z"/>
<rect class="cv" x="0" y="576" width="4" height="2"/>
<rect class="cv" x="1224" y="567" width="3" height="3"/>
<rect class="ax" x="1227" y="0" width="1" height="625"/>
</svg>
</body>
</html>
